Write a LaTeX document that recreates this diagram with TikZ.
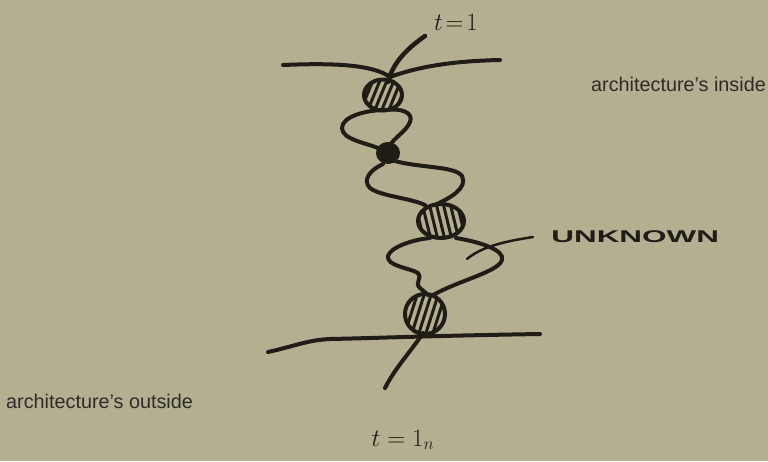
\documentclass[tikz,border=0pt]{standalone}
\usepackage{fontspec}
\setsansfont{Liberation Sans}
\definecolor{bgc}{RGB}{180,175,145}
\definecolor{inkc}{RGB}{32,28,22}
\definecolor{textc}{RGB}{45,44,40}
\begin{document}
\begin{tikzpicture}[x=1pt,y=-1pt,
  ink/.style={line width=4pt, draw=inkc, line cap=round, line join=round},
  thinink/.style={line width=2.5pt, draw=inkc, line cap=round},
  hatchline/.style={line width=3pt, draw=inkc, line cap=round},
  printed/.style={font=\fontsize{19.8}{22}\selectfont\sffamily, text=textc, inner sep=0pt, anchor=base west},
  hand/.style={text=inkc, inner sep=0pt}]
\fill[bgc] (0,0) rectangle (768,461);
\useasboundingbox (0,0) rectangle (768,461);

% printed labels
\node[printed] (inside) at (591,91) {architecture’s inside};
\node[printed] (outside) at (6,408) {architecture’s outside};

% handwritten labels
\node[hand, font=\fontsize{26}{26}\selectfont] (tone) at (456,22) {$t\!=\!1$};
\node[hand, font=\fontsize{27}{27}\selectfont] (tn) at (403,440) {$t=1_n$};
\node[hand, font=\fontsize{17}{17}\selectfont\sffamily\bfseries, xscale=1.85, anchor=base west] (unk) at (551,242) {UNKNOWN};

% top boundary line
\draw[ink] (283,65) .. controls (330,63) and (372,64) .. (390,77);
\draw[ink] (390,77) .. controls (420,66) and (455,61) .. (500,60);
% entering thread
\draw[ink, line width=4.5pt] (425,36) .. controls (408,48) and (393,62) .. (388,82);

% knot 1 (hatched)
\begin{scope}
  \clip (383,95) ellipse [x radius=19, y radius=15.5];
  \foreach \dx in {-22,-15,-8,-1,6,13,20} {
    \draw[hatchline] (383+\dx-8,112) -- (383+\dx+6,78);
  }
\end{scope}
\draw[ink] (383,95) ellipse [x radius=19, y radius=15.5];

% loop 1
\draw[ink] (384,110) .. controls (368,110) and (342,116) .. (342,128) .. controls (342,140) and (368,143) .. (380,149);
\draw[ink] (386,110) .. controls (400,108) and (414,112) .. (410,122) .. controls (406,132) and (393,138) .. (390,146);

% knot 2 (dark)
\filldraw[ink, fill=inkc] (388,153) ellipse [x radius=10, y radius=9];

% loop 2
\draw[ink] (395,161) .. controls (420,168) and (455,166) .. (462,176) .. controls (468,188) and (450,198) .. (437,204);
\draw[ink] (383,164) .. controls (370,170) and (362,180) .. (370,188) .. controls (380,196) and (410,198) .. (425,205);

% knot 3 (hatched)
\begin{scope}
  \clip (441,221) ellipse [x radius=23, y radius=17];
  \foreach \dx in {-21,-14,-7,0,7,14,21} {
    \draw[hatchline] (441+\dx-5,203) -- (441+\dx+4,240);
  }
\end{scope}
\draw[ink] (441,221) ellipse [x radius=23, y radius=17];

% loop 3
\draw[ink] (430,238) .. controls (410,240) and (390,248) .. (388,256) .. controls (386,266) and (410,268) .. (418,273) .. controls (423,277) and (414,283) .. (420,288) -- (428,295);
\draw[ink] (456,238) .. controls (480,242) and (505,250) .. (502,260) .. controls (498,272) and (460,280) .. (433,295);

% leader to UNKNOWN
\coordinate (lead) at (533,237);
\draw[thinink] (lead) .. controls (500,242) and (480,248) .. (467,259);

% knot 4 (hatched)
\begin{scope}
  \clip (425,314) ellipse [x radius=20, y radius=20];
  \foreach \dx in {-18,-11,-4,3,10,17,24} {
    \draw[hatchline] (425+\dx-10,336) -- (425+\dx+4,292);
  }
\end{scope}
\draw[ink] (425,314) ellipse [x radius=20, y radius=20];

% bottom boundary line
\draw[ink] (268,352) .. controls (295,346) and (308,340) .. (330,339) .. controls (380,338) and (420,336) .. (540,334);
% leaving thread
\draw[ink] (423,333) .. controls (412,350) and (395,368) .. (385,388);
\end{tikzpicture}
\end{document}
